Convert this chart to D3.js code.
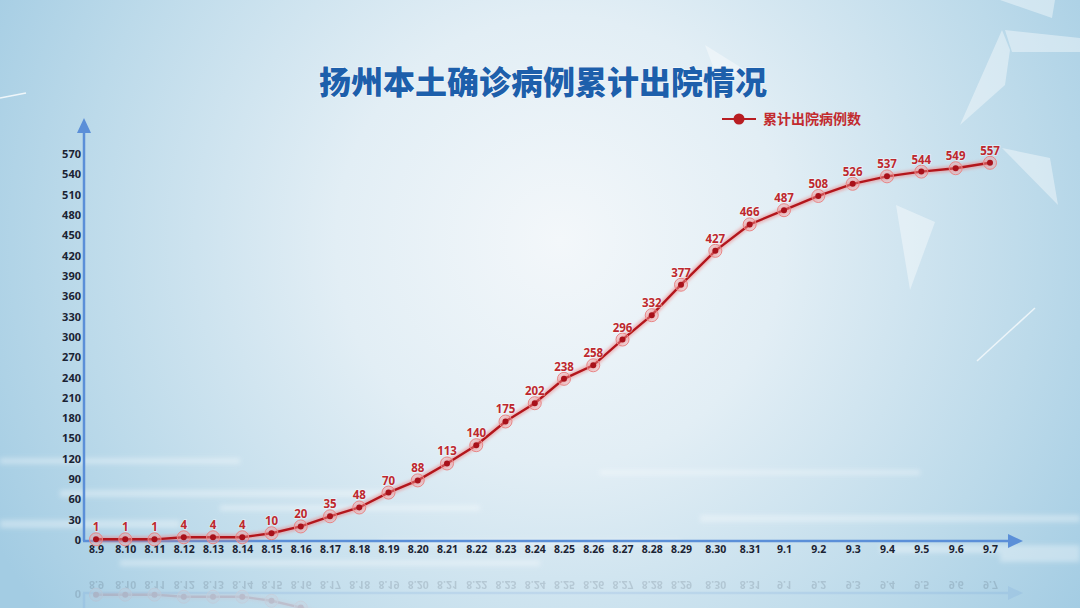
<!DOCTYPE html>
<html>
<head>
<meta charset="utf-8">
<script src="https://cdn.jsdelivr.net/npm/d3@7"></script>
<style>
  html, body { margin: 0; padding: 0; background: #cfe3ef; }
  svg { display: block; }
</style>
</head>
<body>
<div id="chart"></div>
<script>
// data
const dates = ["8.9", "8.10", "8.11", "8.12", "8.13", "8.14", "8.15", "8.16", "8.17", "8.18",
  "8.19", "8.20", "8.21", "8.22", "8.23", "8.24", "8.25", "8.26", "8.27", "8.28",
  "8.29", "8.30", "8.31", "9.1", "9.2", "9.3", "9.4", "9.5", "9.6", "9.7"];
const discharged = [1, 1, 1, 4, 4, 4, 10, 20, 35, 48,
  70, 88, 113, 140, 175, 202, 238, 258, 296, 332,
  377, 427, 466, 487, 508, 526, 537, 544, 549, 557];
const yTicks = [0, 30, 60, 90, 120, 150, 180, 210, 240, 270, 300, 330, 360, 390, 420, 450, 480, 510, 540, 570];
const title = "扬州本土确诊病例累计出院情况";
const seriesName = "累计出院病例数";

const svgWidth = 1080;
const svgHeight = 608;

const svg = d3.select("#chart")
  .append("svg")
  .attr("width", svgWidth)
  .attr("height", svgHeight);

const defs = svg.append("defs");

// background gradient, pale in the middle, bluer towards the edges
const bg = defs.append("radialGradient")
  .attr("id", "bg")
  .attr("gradientUnits", "userSpaceOnUse")
  .attr("cx", 560).attr("cy", 240).attr("r", 640);
bg.append("stop").attr("offset", "0%").attr("stop-color", "#f3f7fa");
bg.append("stop").attr("offset", "35%").attr("stop-color", "#e2eef5");
bg.append("stop").attr("offset", "75%").attr("stop-color", "#bcdaea");
bg.append("stop").attr("offset", "100%").attr("stop-color", "#a3cce3");

const glow = defs.append("filter").attr("id", "soft")
  .attr("x", "-20%").attr("y", "-20%").attr("width", "140%").attr("height", "140%");
glow.append("feGaussianBlur").attr("stdDeviation", 1.5);

const haze = defs.append("filter").attr("id", "haze")
  .attr("x", "-10%").attr("y", "-100%").attr("width", "120%").attr("height", "300%");
haze.append("feGaussianBlur").attr("stdDeviation", 2.5);

svg.append("rect")
  .attr("width", svgWidth)
  .attr("height", svgHeight)
  .attr("fill", "url(#bg)");

// faint floor streaks near the bottom
const streaks = svg.append("g").attr("opacity", 0.35).attr("filter", "url(#haze)");
[[0, 458, 240, 6], [60, 490, 330, 7], [0, 520, 180, 8], [220, 505, 260, 6],
 [600, 470, 320, 5], [700, 515, 380, 7], [380, 540, 300, 5], [880, 545, 200, 8],
 [1000, 552, 80, 10], [120, 560, 420, 6]].forEach(s => {
  streaks.append("rect")
    .attr("x", s[0]).attr("y", s[1])
    .attr("width", s[2]).attr("height", s[3])
    .attr("fill", "#ffffff");
});

// glassy shards top-right
const shards = svg.append("g").attr("fill", "#ffffff");
[
  [[990, 0], [1010, 50], [1005, 85], [960, 125], [1002, 30]],
  [[1005, 30], [1080, 38], [1080, 52], [1012, 52]],
  [[1000, 0], [1055, 0], [1052, 18]],
  [[1002, 148], [1050, 158], [1058, 205]],
  [[896, 205], [935, 222], [910, 290]],
  [[705, 45], [745, 70], [720, 85]]
].forEach(p => {
  shards.append("polygon")
    .attr("points", p.map(d => d.join(",")).join(" "))
    .attr("opacity", 0.4);
});
svg.append("line")
  .attr("x1", 977).attr("y1", 361).attr("x2", 1035).attr("y2", 308)
  .attr("stroke", "#ffffff").attr("stroke-width", 1.5).attr("opacity", 0.7);
svg.append("line")
  .attr("x1", 0).attr("y1", 98).attr("x2", 26).attr("y2", 93)
  .attr("stroke", "#ffffff").attr("stroke-width", 1.5).attr("opacity", 0.8);

// scales: x spacing in the picture widens slightly after 8.29
const xScale = d3.scaleLinear()
  .domain([0, 20, dates.length - 1])
  .range([96, 681, 990]);

const yScale = d3.scaleLinear()
  .domain([0, 570])
  .range([540, 154]);

const axisColor = "#5b8fd8";
const x0 = 84;
const yBase = 541;

// title
svg.append("text")
  .attr("x", 543)
  .attr("y", 94)
  .attr("text-anchor", "middle")
  .attr("font-family", "'Noto Sans CJK SC', sans-serif")
  .attr("font-weight", 900)
  .attr("font-size", 32)
  .attr("fill", "#1d5fab")
  .attr("stroke", "#ffffff")
  .attr("stroke-width", 1.2)
  .attr("stroke-opacity", 0.6)
  .attr("paint-order", "stroke")
  .text(title);

// legend
const legend = svg.append("g").attr("transform", "translate(722, 119)");
legend.append("line")
  .attr("x1", 0).attr("x2", 34)
  .attr("stroke", "#b81d22").attr("stroke-width", 2);
legend.append("circle")
  .attr("cx", 17).attr("r", 5.5)
  .attr("fill", "#b81d22");
legend.append("text")
  .attr("x", 41)
  .attr("dy", "0.36em")
  .attr("font-family", "'Noto Sans CJK SC', sans-serif")
  .attr("font-weight", 700)
  .attr("font-size", 14)
  .attr("fill", "#c22a2e")
  .text(seriesName);

// reflection of the bottom of the chart
const mirror = svg.append("g")
  .attr("transform", "translate(0, 1134) scale(1, -1)")
  .attr("opacity", 0.14);

function drawChart(g, full) {
  // y tick labels
  const leftAxis = d3.axisLeft(yScale)
    .tickValues(full ? yTicks : yTicks.slice(0, 1))
    .tickSize(0)
    .tickPadding(0);
  const yAxis = g.append("g")
    .attr("transform", `translate(${x0 - 3}, 0)`)
    .call(leftAxis);
  yAxis.select(".domain").remove();
  yAxis.selectAll("text")
    .attr("font-family", "'Noto Sans', sans-serif")
    .attr("font-weight", 700)
    .attr("font-size", 11)
    .attr("fill", "#1b2333");

  // x tick labels
  const bottomAxis = d3.axisBottom(xScale)
    .tickValues(d3.range(dates.length))
    .tickFormat(i => dates[i])
    .tickSize(0)
    .tickPadding(0);
  const xAxis = g.append("g")
    .attr("transform", `translate(0, ${yBase + 5})`)
    .call(bottomAxis);
  xAxis.select(".domain").remove();
  xAxis.selectAll("text")
    .attr("font-family", "'Noto Sans', sans-serif")
    .attr("font-weight", 700)
    .attr("font-size", 10.5)
    .attr("fill", "#1b2333");

  // axis lines with arrow heads
  g.append("line")
    .attr("x1", x0).attr("y1", yBase).attr("x2", x0).attr("y2", 130)
    .attr("stroke", axisColor).attr("stroke-width", 2.5);
  g.append("polygon")
    .attr("points", `${x0},118 ${x0 - 7},133 ${x0 + 7},133`)
    .attr("fill", axisColor);
  g.append("line")
    .attr("x1", x0 - 1).attr("y1", yBase).attr("x2", 1010).attr("y2", yBase)
    .attr("stroke", axisColor).attr("stroke-width", 2.5);
  g.append("polygon")
    .attr("points", `1023,${yBase} 1008,${yBase - 7} 1008,${yBase + 7}`)
    .attr("fill", axisColor);

  const line = d3.line()
    .x((d, i) => xScale(i))
    .y(d => yScale(d));

  // soft glow under the line
  g.append("path")
    .datum(discharged)
    .attr("d", line)
    .attr("fill", "none")
    .attr("stroke", "#f07a7a")
    .attr("stroke-opacity", 0.5)
    .attr("stroke-width", 6)
    .attr("filter", "url(#soft)");

  g.append("path")
    .datum(discharged)
    .attr("d", line)
    .attr("fill", "none")
    .attr("stroke", "#b3161c")
    .attr("stroke-width", 2.4);

  // point markers
  g.selectAll(".halo")
    .data(discharged)
    .enter()
    .append("circle")
    .attr("class", "halo")
    .attr("cx", (d, i) => xScale(i))
    .attr("cy", d => yScale(d))
    .attr("r", 6.5)
    .attr("fill", "#f39a9a")
    .attr("fill-opacity", 0.4)
    .attr("stroke", "#e98686")
    .attr("stroke-width", 1);

  g.selectAll(".dot")
    .data(discharged)
    .enter()
    .append("circle")
    .attr("class", "dot")
    .attr("cx", (d, i) => xScale(i))
    .attr("cy", d => yScale(d))
    .attr("r", 3)
    .attr("fill", "#a8111a");

  if (full) {
    // value labels
    g.selectAll(".valueText")
      .data(discharged)
      .enter()
      .append("text")
      .attr("class", "valueText")
      .attr("x", (d, i) => xScale(i))
      .attr("y", d => yScale(d) - 8)
      .attr("text-anchor", "middle")
      .attr("font-family", "'Noto Sans', sans-serif")
      .attr("font-weight", 700)
      .attr("font-size", 11.5)
      .attr("fill", "#bd282e")
      .attr("stroke", "#ffffff")
      .attr("stroke-width", 1.5)
      .attr("stroke-opacity", 0.5)
      .attr("paint-order", "stroke")
      .text(d => d);
  }
}

drawChart(mirror, false);
drawChart(svg.append("g"), true);
</script>
</body>
</html>
